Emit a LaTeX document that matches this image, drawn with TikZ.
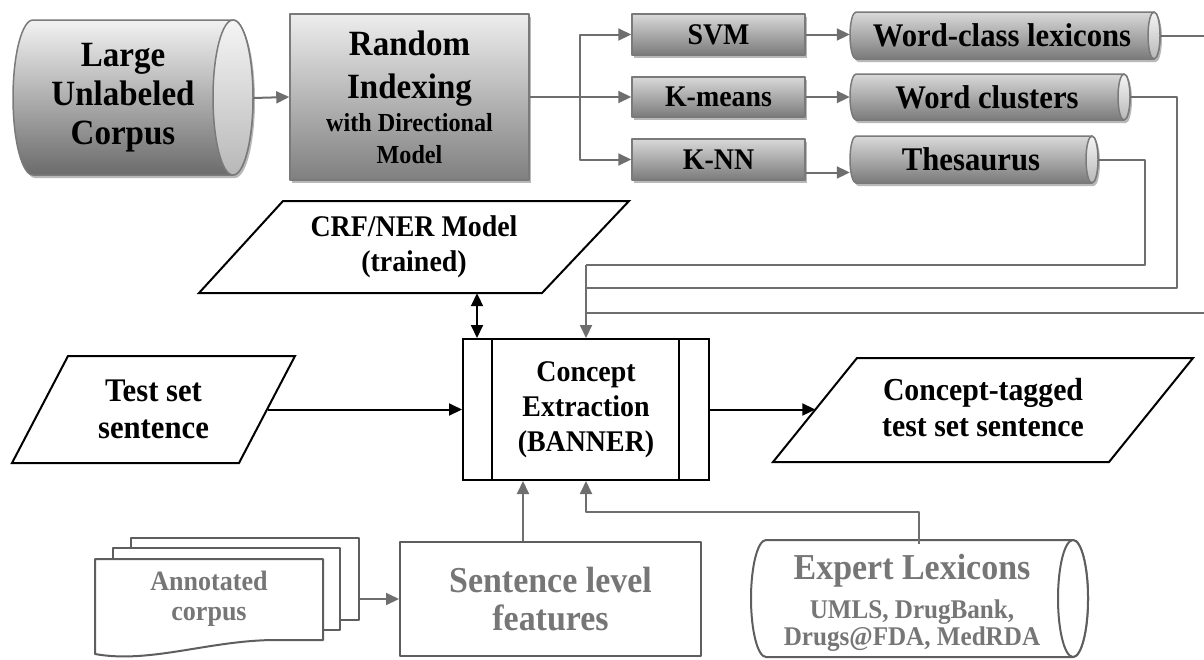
\documentclass[tikz,border=0pt]{standalone}
\usepackage{fontspec}
\setmainfont{Liberation Serif}[FakeStretch=0.93]
\usetikzlibrary{arrows.meta,shadows,calc}
\definecolor{ln}{HTML}{6E6E6E}
\definecolor{edg}{HTML}{7A7A7A}
\definecolor{btx}{HTML}{767676}
\definecolor{bln}{HTML}{5E5E5E}
\newcommand\szXL{\fontsize{36.5}{38}\selectfont\bfseries}
\newcommand\szBig{\fontsize{35.5}{39}\selectfont\bfseries}
\newcommand\szL{\fontsize{33}{37}\selectfont\bfseries}
\newcommand\szLt{\fontsize{32}{36}\selectfont\bfseries}
\newcommand\szM{\fontsize{30}{35}\selectfont\bfseries}
\newcommand\szS{\fontsize{27}{26}\selectfont\bfseries}
\newcommand\szT{\fontsize{26}{30}\selectfont\bfseries}
\newcommand\szA{\fontsize{28}{30}\selectfont\bfseries}
\newcommand\cylshape[6]{%
  \path[#6] (#1+#5,-#2) -- (#3-#5,-#2)
    arc[start angle=90,end angle=-90,x radius=#5,y radius={(#4-#2)/2}]
    -- (#1+#5,-#4)
    arc[start angle=-90,end angle=-270,x radius=#5,y radius={(#4-#2)/2}] -- cycle;}
\newcommand\cylcap[6]{%
  \path[#6] (#3-#5,{-(#2+#4)/2}) ellipse[x radius=#5,y radius={(#4-#2)/2}];}
\tikzset{
  tip/.tip={Triangle[length=13pt,width=12pt]},
  conn/.style={draw=ln, line width=2pt},
  garr/.style={conn, -tip},
  barr/.style={draw=black, line width=2pt, -tip},
  dbarr/.style={draw=black, line width=2pt, tip-tip},
  shd/.style={drop shadow={shadow xshift=2pt, shadow yshift=-3pt, opacity=0.28, fill=black}},
  bigshade/.style={top color=black!5, bottom color=black!58, draw=edg, line width=1.5pt},
  rishade/.style={top color=black!7, bottom color=black!50, draw=edg, line width=1.5pt},
  smallshade/.style={top color=black!15, middle color=black!2, bottom color=black!52, draw=edg, line width=1.5pt},
  capshade/.style={top color=black!4, bottom color=black!28, draw=edg, line width=1.5pt},
  lbl/.style={inner sep=0pt, align=center},
  frame/.style={draw=black, line width=2pt, fill=white, line join=miter},
  bframe/.style={draw=bln, line width=2pt, fill=white},
}
\begin{document}
\begin{tikzpicture}[x=1pt,y=1pt,line join=round]
\useasboundingbox (0,0) rectangle (1204,-659);

% ---- Large Unlabeled Corpus
\cylshape{13}{20}{253}{175}{20}{bigshade,shd}
\cylcap{13}{20}{253}{175}{20}{capshade}
\node[lbl, font=\szBig, minimum width=220pt, minimum height=155pt] (corpus) at (123,-98)
  {Large\\Unlabeled\\Corpus};

% ---- Random Indexing
\node[lbl, rishade, shd, minimum width=239pt, minimum height=166pt, font=\szBig] (ri) at (409.5,-97)
  {\szBig Random\\[4pt]\szBig Indexing\\[-6pt]\szT with Directional\\[-7pt]\szT Model};

% ---- classifiers
\node[lbl, smallshade, shd, minimum width=173pt, minimum height=41pt, font=\szM] (svm) at (718.5,-34.5) {SVM};
\node[lbl, smallshade, shd, minimum width=173pt, minimum height=40pt, font=\szM] (kmeans) at (718.5,-97) {K-means};
\node[lbl, smallshade, shd, minimum width=173pt, minimum height=41pt, font=\szM] (knn) at (718.5,-159.5) {K-NN};

% ---- resource cylinders
\cylshape{850}{12}{1160}{59}{6}{smallshade,shd}
\cylcap{850}{12}{1160}{59}{6}{capshade}
\node[lbl, font=\szL, minimum width=304pt, minimum height=47pt] (wc) at (1002,-35.5) {Word-class lexicons};
\cylshape{850}{74}{1130}{120}{6}{smallshade,shd}
\cylcap{850}{74}{1130}{120}{6}{capshade}
\node[lbl, font=\szL, minimum width=274pt, minimum height=46pt] (wcl) at (987,-97) {Word clusters};
\cylshape{850}{136}{1098}{183}{6}{smallshade,shd}
\cylcap{850}{136}{1098}{183}{6}{capshade}
\node[lbl, font=\szL, minimum width=242pt, minimum height=47pt] (th) at (971,-159.5) {Thesaurus};

% ---- top connectors
\coordinate (split) at (580,-97);
\draw[garr] ([xshift=20pt]corpus.east) -- (ri.west);
\draw[conn] (ri.east) -- (split);
\draw[garr] (split) |- (svm.west);
\draw[garr] (split) -- (kmeans.west);
\draw[garr] (split) |- (knn.west);
\draw[garr] (svm.east) -- (svm.east -| wc.west);
\draw[garr] (kmeans.east) -- (kmeans.east -| wcl.west);
\draw[garr] ([yshift=-13pt]knn.east) -- ([yshift=-13pt]knn.east -| th.west);

% ---- Concept extraction
\node[frame, lbl, minimum width=246pt, minimum height=141pt, font=\szM] (concept) at (586,-409.5)
  {Concept\\Extraction\\(BANNER)};
\draw[line width=2pt] ([xshift=30pt]concept.north west) -- ([xshift=30pt]concept.south west);
\draw[line width=2pt] ([xshift=-31pt]concept.north east) -- ([xshift=-31pt]concept.south east);

% ---- feedback lines from resources
\coordinate (edgeA) at (1204,-35.5);
\coordinate (edgeB) at (1204,-313);
\coordinate (cA) at (1177,-288);
\coordinate (cB) at (1145,-265);
\draw[conn] ([xshift=6pt]wc.east) -- (edgeA);
\draw[conn] (edgeB) -- (concept.north |- edgeB);
\draw[conn] ([xshift=6pt]wcl.east) -| (cA) -- (concept.north |- cA);
\draw[conn] ([xshift=6pt]th.east) -| (cB) -- (concept.north |- cB);
\draw[garr] (concept.north |- cB) -- (concept.north);

% ---- CRF/NER model
\draw[frame] (283,-201) -- (629,-201) -- (542,-293) -- (199,-293) -- cycle;
\node[lbl, font=\szM, minimum width=260pt, minimum height=92pt] (crf) at (414,-247) {CRF/NER Model\\(trained)};
\draw[dbarr] ([xshift=15pt]concept.north west |- crf.south) -- ([xshift=15pt]concept.north west);

% ---- Test set sentence
\draw[frame] (68,-356) -- (295,-356) -- (239,-463) -- (12,-463) -- cycle;
\node[lbl, font=\szL, minimum width=229pt, minimum height=107pt] (test) at (153.5,-409.5) {Test set\\sentence};
\draw[barr] (test.east) -- (concept.west);

% ---- Concept-tagged
\draw[frame] (857,-358) -- (1193,-358) -- (1109,-462) -- (773,-462) -- cycle;
\node[lbl, font=\szLt, minimum width=335pt, minimum height=104pt] (tagged) at (983,-408) {Concept-tagged\\test set sentence};
\draw[barr] (concept.east) -- (concept.east -| tagged.west);

% ---- Annotated corpus
\node[bframe, minimum width=228pt, minimum height=82pt, inner sep=0pt] (sb) at (245,-579) {};
\node[bframe, minimum width=227pt, minimum height=82pt, inner sep=0pt] (sm) at (226.5,-589) {};
\draw[bframe] (95,-559) -- (323,-559) -- (323,-640) -- (276,-640)
  .. controls (210,-640) and (150,-664) .. (95,-654) -- cycle;
\node[lbl, font=\szA, text=btx] (annot) at (209,-599) {Annotated\\corpus};

% ---- Sentence level features
\node[bframe, lbl, minimum width=301pt, minimum height=114pt, font=\szXL, text=btx] (sent) at (550.5,-599)
  {Sentence level\\features};
\draw[garr] (sb.east |- sent.west) -- (sent.west);
\draw[garr] ([xshift=61pt]concept.south west |- sent.north) -- ([xshift=61pt]concept.south west);

% ---- Expert lexicons
\cylshape{751}{540}{1088}{657}{15}{bframe}
\cylcap{751}{540}{1088}{657}{15}{bframe}
\node[lbl, text=btx, font=\szXL, minimum width=322pt, minimum height=117pt] (expert) at (912,-603)
  {\szXL Expert Lexicons\\[1pt]\szS UMLS, DrugBank,\\[-11pt]\szS Drugs@FDA, MedRDA};
\coordinate (eb) at (919,-512);
\draw[garr] (eb |- expert.north) -- (eb) -| (concept.south);
\end{tikzpicture}
\end{document}
